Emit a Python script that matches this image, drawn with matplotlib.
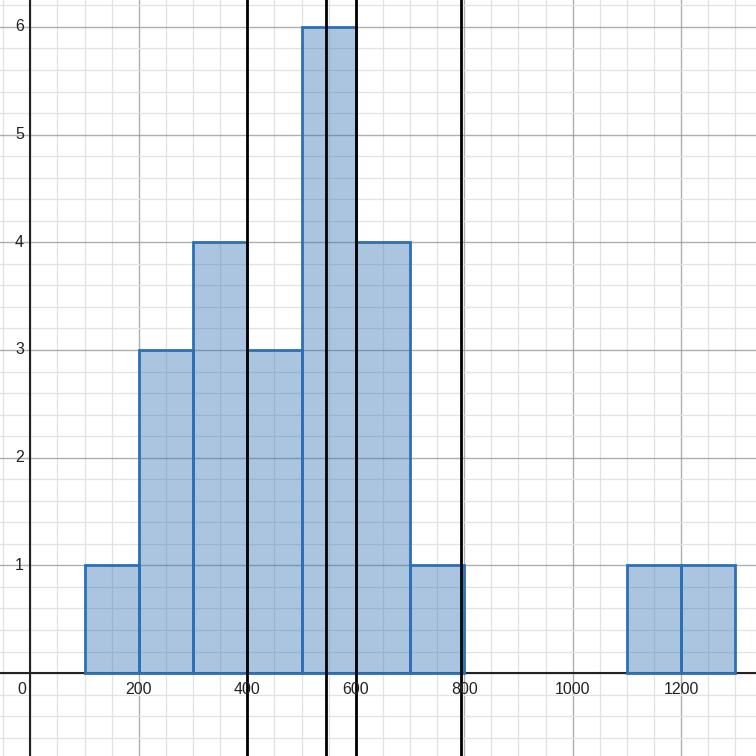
import numpy as np
import matplotlib.pyplot as plt
from matplotlib.ticker import MultipleLocator

# histogram bins (left edge) and counts
bin_left = [100, 200, 300, 400, 500, 600, 700, 1100, 1200]
counts = [1, 3, 4, 3, 6, 4, 1, 1, 1]
bin_width = 100

# vertical marker lines
vlines = [400, 546, 600, 794]

xticks = [200, 400, 600, 800, 1000, 1200]
yticks = [1, 2, 3, 4, 5, 6]

plt.rcParams['font.family'] = ['Liberation Sans', 'DejaVu Sans']

fig = plt.figure(figsize=(7.56, 7.56), dpi=100)
ax = fig.add_axes([0, 0, 1, 1])
ax.set_xlim(-56, 1338)
ax.set_ylim(-0.77, 6.25)

# grid
ax.xaxis.set_major_locator(MultipleLocator(200))
ax.xaxis.set_minor_locator(MultipleLocator(50))
ax.yaxis.set_major_locator(MultipleLocator(1))
ax.yaxis.set_minor_locator(MultipleLocator(0.2))
ax.grid(which='major', color='#9a9a9a', linewidth=1.0, alpha=0.8)
ax.grid(which='minor', color='#e2e2e2', linewidth=0.9)
ax.set_axisbelow(True)
ax.tick_params(which='both', length=0, labelbottom=False, labelleft=False)
for s in ax.spines.values():
    s.set_visible(False)

ax.axhline(0, color='#222222', linewidth=1.5, zorder=2)
ax.axvline(0, color='#222222', linewidth=1.5, zorder=2)

ax.bar(bin_left, counts, width=bin_width, align='edge',
       facecolor='#2d70b3', alpha=0.4, edgecolor='none', zorder=3)
ax.bar(bin_left, counts, width=bin_width, align='edge',
       facecolor='none', edgecolor='#2d70b3', linewidth=2, zorder=4)

for v in vlines:
    ax.axvline(v, color='black', linewidth=2, zorder=5)

# tick labels, desmos style
for t in xticks:
    ax.text(t, -0.08, str(t), ha='center', va='top', fontsize=11.5, color='#222222', zorder=6)
ax.text(-8, -0.08, '0', ha='right', va='top', fontsize=11.5, color='#222222', zorder=6)
for t in yticks:
    ax.text(-12, t, str(t), ha='right', va='center', fontsize=11.5, color='#222222', zorder=6)

plt.savefig('out.png', dpi=100)
